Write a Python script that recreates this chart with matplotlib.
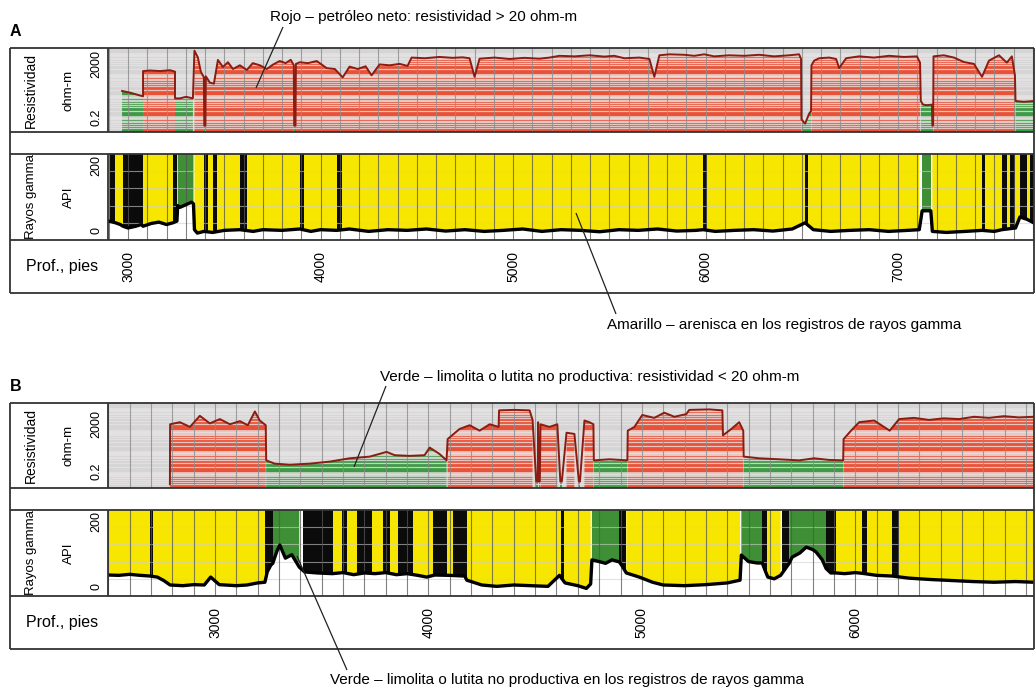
import numpy as np
import matplotlib
matplotlib.use('Agg')
import matplotlib.pyplot as plt
from matplotlib.lines import Line2D
from matplotlib.transforms import blended_transform_factory

W, H = 1036, 693

# ---------------- Pozo A ----------------
# resistividad: profundidad (pies) y valor (ohm-m)
prof_res_a = [2969, 3010, 3062, 3078, 3078, 3114, 3166, 3218, 3244, 3244, 3270, 3301, 3337,
              3345, 3363, 3378, 3394, 3396, 3402, 3404, 3425, 3446, 3467, 3493, 3519, 3545,
              3581, 3617, 3648, 3685, 3721, 3752, 3788, 3819, 3845, 3861, 3863, 3870, 3872,
              3892, 3934, 3980, 4032, 4074, 4115, 4151, 4193, 4234, 4265, 4307, 4359, 4411,
              4452, 4473, 4541, 4618, 4686, 4738, 4774, 4800, 4826, 4904, 4982, 5059, 5137,
              5189, 5241, 5319, 5397, 5474, 5526, 5578, 5656, 5708, 5734, 5760, 5812, 5890,
              5941, 5993, 6045, 6123, 6201, 6279, 6356, 6434, 6486, 6496, 6498, 6517, 6538,
              6548, 6550, 6564, 6590, 6642, 6678, 6694, 6730, 6797, 6875, 6953, 7031, 7098,
              7114, 7118, 7130, 7150, 7176, 7178, 7182, 7184, 7238, 7290, 7342, 7394, 7436,
              7472, 7524, 7565, 7591, 7607, 7610, 7653, 7705]
res_a = [18, 15, 11, 10, 160, 170, 160, 175, 150, 8, 8, 9.5, 8,
         1500, 700, 150, 80, 0.4, 0.4, 90, 45, 40, 540, 250, 420, 200,
         300, 180, 380, 300, 200, 320, 480, 380, 550, 300, 0.4, 0.4, 350,
         420, 380, 480, 220, 200, 80, 260, 200, 270, 100, 330, 300, 350,
         280, 700, 650, 750, 680, 720, 650, 85, 620, 700, 600, 680, 620,
         700, 850, 800, 900, 780, 850, 650, 700, 600, 85, 900, 1000, 950,
         850, 1000, 800, 900, 850, 950, 800, 900, 1000, 600, 0.8, 0.5, 1.5,
         2, 300, 500, 650, 700, 600, 220, 650, 800, 700, 850, 750, 800,
         400, 6, 4, 3.8, 4, 0.4, 0.4, 800, 900, 700, 430, 350, 85,
         500, 900, 400, 800, 100, 6, 5.5, 6]
# rayos gamma: profundidad (pies) y valor (API)
prof_gr_a = [2900, 2935, 2960, 2974, 3000, 3040, 3070, 3078, 3120, 3160, 3200, 3233, 3254,
             3258, 3270, 3290, 3310, 3330, 3340, 3345, 3360, 3394, 3440, 3500, 3581, 3650,
             3700, 3800, 3892, 3950, 4000, 4084, 4150, 4250, 4350, 4450, 4550, 4650, 4750,
             4850, 4950, 5050, 5150, 5250, 5350, 5450, 5550, 5650, 5750, 5850, 5950, 5988,
             6050, 6150, 6250, 6350, 6450, 6517, 6560, 6650, 6750, 6850, 6950, 7050, 7110,
             7125, 7170, 7178, 7250, 7350, 7436, 7500, 7539, 7610, 7633, 7670, 7705]
gr_a = [55, 50, 45, 40, 35, 40, 45, 40, 48, 52, 45, 50, 55,
        100, 95, 100, 105, 110, 105, 30, 20, 25, 22, 28, 30, 25,
        30, 28, 32, 25, 30, 28, 32, 25, 30, 28, 32, 26, 30,
        25, 28, 32, 25, 30, 28, 24, 30, 28, 32, 26, 28, 30,
        25, 28, 30, 26, 32, 50, 30, 25, 28, 30, 25, 28, 30,
        85, 85, 25, 22, 25, 28, 25, 30, 35, 67, 60, 50]
# capas de lutita delgadas (negro) en el registro de rayos gamma
lutitas_a = [(2906, 2932), (2974, 3078), (3233, 3254), (3394, 3415), (3441, 3461),
             (3581, 3617), (3892, 3913), (4084, 4110), (5988, 6009), (6517, 6533),
             (7436, 7451), (7539, 7565), (7580, 7607), (7633, 7669), (7685, 7706)]
ticks_a = [3000, 4000, 5000, 6000, 7000]

# ---------------- Pozo B ----------------
prof_res_b = [2789, 2790, 2836, 2883, 2929, 2976, 3023, 3070, 3117, 3154, 3187, 3210, 3238,
              3240, 3280, 3351, 3444, 3538, 3631, 3725, 3804, 3842, 3912, 3982, 4006, 4052,
              4085, 4090, 4146, 4193, 4240, 4287, 4329, 4331, 4403, 4474, 4488, 4505, 4512,
              4514, 4518, 4522, 4525, 4567, 4604, 4618, 4625, 4647, 4684, 4705, 4710, 4731,
              4754, 4773, 4775, 4848, 4932, 4934, 4965, 5002, 5058, 5105, 5152, 5208, 5222,
              5316, 5377, 5380, 5419, 5456, 5475, 5477, 5550, 5643, 5737, 5807, 5877, 5943,
              5945, 5980, 6018, 6088, 6161, 6205, 6275, 6345, 6415, 6486, 6556, 6626, 6696,
              6766, 6836]
res_b = [0.3, 200, 250, 150, 500, 220, 350, 200, 280, 180, 800, 300, 180,
         4, 2.8, 2.5, 2.8, 3.5, 5, 6, 10, 7, 6.5, 7, 16, 8,
         4, 40, 120, 180, 100, 200, 150, 900, 950, 900, 320, 0.4, 0.4,
         250, 0.4, 0.4, 200, 150, 200, 0.4, 0.4, 80, 70, 0.4, 0.4, 300,
         250, 200, 4, 4.5, 4, 100, 150, 545, 400, 700, 450, 600, 950,
         1000, 900, 60, 120, 250, 100, 6, 5, 4.5, 4, 5, 4.2, 4,
         40, 100, 250, 300, 100, 350, 400, 320, 380, 350, 450, 400, 480,
         420, 450]
prof_gr_b = [2500, 2550, 2600, 2650, 2696, 2730, 2760, 2790, 2850, 2900, 2950, 2980, 3020,
             3100, 3150, 3200, 3234, 3245, 3262, 3271, 3290, 3304, 3330, 3360, 3395, 3420,
             3480, 3550, 3600, 3650, 3700, 3750, 3800, 3850, 3900, 3950, 3992, 4030, 4100,
             4170, 4180, 4250, 4320, 4400, 4480, 4560, 4614, 4640, 4700, 4740, 4760, 4766,
             4800, 4830, 4860, 4895, 4910, 4927, 4988, 5050, 5100, 5200, 5300, 5400, 5460,
             5466, 5500, 5540, 5564, 5580, 5590, 5620, 5650, 5690, 5704, 5740, 5770, 5800,
             5816, 5845, 5863, 5885, 5910, 5950, 6000, 6032, 6100, 6172, 6250, 6350, 6450,
             6550, 6650, 6750, 6836]
gr_b = [61, 60, 63, 60, 58, 55, 45, 32, 30, 33, 32, 55, 33,
        30, 32, 38, 40, 70, 90, 95, 130, 148, 110, 120, 84, 70,
        67, 65, 68, 62, 67, 65, 68, 62, 65, 60, 55, 61, 60,
        58, 46, 32, 28, 32, 30, 28, 60, 38, 30, 22, 35, 105,
        100, 95, 105, 99, 85, 67, 55, 40, 32, 30, 33, 38, 46,
        119, 100, 96, 96, 70, 55, 50, 60, 95, 113, 125, 142, 135,
        128, 105, 80, 67, 67, 65, 68, 66, 60, 58, 52, 48, 45,
        42, 40, 42, 40]
lutitas_b = [(2696, 2710), (3234, 3271), (3411, 3552), (3594, 3617), (3664, 3734),
             (3786, 3818), (3856, 3926), (4020, 4085), (4113, 4179), (4623, 4637),
             (4895, 4927), (5564, 5587), (5657, 5690), (5863, 5910), (6032, 6055),
             (6172, 6205)]
ticks_b = [3000, 4000, 5000, 6000]

RES_CORTE = 20   # ohm-m
GR_CORTE = 75    # API

ROJO = '#ea5238'
VERDE = '#3d9a45'
VERDE_GR = '#3f8f36'
AMARILLO = '#f7e600'
CURVA_RES = '#8a1c12'
BORDE = '#333333'

plt.rcParams['font.family'] = ['Liberation Sans', 'DejaVu Sans']

fig = plt.figure(figsize=(W / 100, H / 100), dpi=100)
fig.patch.set_facecolor('white')


def fx(x):
    return x / W


def fy(y):
    return 1 - y / H


def linea(x0, y0, x1, y1, lw=1.3, color=BORDE):
    fig.add_artist(Line2D([fx(x0), fx(x1)], [fy(y0), fy(y1)], transform=fig.transFigure,
                          color=color, lw=lw, solid_capstyle='butt'))


def texto(x, y, s, **kw):
    fig.text(fx(x), fy(y), s, **kw)


def pista(x0, y0, x1, y1):
    ax = fig.add_axes([fx(x0), fy(y1), fx(x1) - fx(x0), fy(y0) - fy(y1)])
    for s in ax.spines.values():
        s.set_visible(False)
    return ax


def sin_ejes(ax):
    ax.xaxis.set_major_locator(plt.NullLocator())
    ax.xaxis.set_minor_locator(plt.NullLocator())
    ax.yaxis.set_major_locator(plt.NullLocator())
    ax.yaxis.set_minor_locator(plt.NullLocator())


def panel(letra, g, prof_res, res, prof_gr, gr, lutitas, ticks, d0, d1):
    top, rb, gt, gb, bot = g['top'], g['rb'], g['gt'], g['gb'], g['bot']
    L, D, R = 10, 108, 1034

    # pista de resistividad (escala log)
    ax = pista(D, top, R, rb)
    ax.set_facecolor('#d5d5d5')
    ax.set_yscale('log')
    ax.set_xlim(d0, d1)
    ax.set_ylim(0.2, 2000)
    sin_ejes(ax)
    pr = np.array(prof_res, float)
    rv = np.array(res, float)
    ax.fill_between(pr, 0.2, rv, where=rv >= RES_CORTE, color=ROJO, lw=0, zorder=1)
    ax.fill_between(pr, 0.2, rv, where=rv < RES_CORTE, color=VERDE, lw=0, zorder=1)
    for e in range(-1, 4):
        for k in range(1, 10):
            v = k * 10.0 ** e
            if 0.2 < v < 2000:
                ax.axhline(v, color='#e6e3e3', lw=2.0 if k == 1 else 0.9, alpha=0.8, zorder=2)
    for d in np.arange(2500, 7800, 100):
        ax.axvline(d, color='#8c8c8c', lw=0.8, alpha=0.8, zorder=3)
    ax.plot(pr, rv, color=CURVA_RES, lw=1.4, zorder=4)

    # pista de rayos gamma
    ax2 = pista(D, gt, R, gb)
    ax2.set_xlim(d0, d1)
    ax2.set_ylim(0, 250)
    sin_ejes(ax2)
    pg = np.array(prof_gr, float)
    gv = np.array(gr, float)
    ax2.fill_between(pg, gv, 250, where=gv < GR_CORTE, color=AMARILLO, lw=0, zorder=1)
    ax2.fill_between(pg, gv, 250, where=gv >= GR_CORTE, color=VERDE_GR, lw=0, zorder=1)
    for a, b in lutitas:
        ax2.axvspan(a, b, color='#0b0b0b', lw=0, zorder=2)
    ax2.fill_between(pg, 0, gv, color='white', lw=0, zorder=3)
    for v in (50, 100, 150, 200):
        ax2.axhline(v, color='#cfcfcf', lw=0.8, alpha=0.6, zorder=4)
    for d in np.arange(2500, 7800, 100):
        ax2.axvline(d, color='#555555', lw=0.8, alpha=0.75, zorder=4)
    ax2.plot(pg, gv, color='black', lw=2.4, zorder=5)

    # marco
    linea(L, top, R, top)
    linea(L, rb, R, rb)
    linea(L, gt, R, gt)
    linea(L, gb, R, gb)
    linea(L, bot, R, bot)
    linea(L, top, L, bot)
    linea(R, top, R, bot)
    linea(D, top, D, rb)
    linea(D, gt, D, gb)

    texto(10, top - 17, letra, fontsize=11.5, fontweight='bold', ha='left', va='center')

    # rótulos de la columna izquierda
    ym = (top + rb) / 2
    texto(31, ym, 'Resistividad', rotation=90, ha='center', va='center', fontsize=10)
    texto(69, ym, 'ohm-m', rotation=90, ha='center', va='center', fontsize=9.5)
    texto(96, top + g['r_hi'], '2000', rotation=90, ha='center', va='center', fontsize=9)
    texto(96, rb - g['r_lo'], '0.2', rotation=90, ha='center', va='center', fontsize=9)
    ym = (gt + gb) / 2
    texto(31, ym, 'Rayos gamma', rotation=90, ha='center', va='center', fontsize=9.5)
    texto(69, ym, 'API', rotation=90, ha='center', va='center', fontsize=9.5)
    texto(96, gt + g['g_hi'], '200', rotation=90, ha='center', va='center', fontsize=9)
    texto(96, gb - g['g_lo'], '0', rotation=90, ha='center', va='center', fontsize=9)

    # fila de profundidad
    yp = (gb + bot) / 2
    texto(26, yp, 'Prof., pies', ha='left', va='center', fontsize=11.5)
    tr = blended_transform_factory(ax2.transData, fig.transFigure)
    for t in ticks:
        fig.text(t, fy(yp), str(t), transform=tr, rotation=90, ha='center', va='center',
                 fontsize=10)


geo_a = dict(top=48, rb=132, gt=154, gb=240, bot=293, r_hi=16, r_lo=15, g_hi=11, g_lo=10)
geo_b = dict(top=403, rb=488, gt=510, gb=596, bot=649, r_hi=21, r_lo=17, g_hi=12, g_lo=9)

panel('A', geo_a, prof_res_a, res_a, prof_gr_a, gr_a, lutitas_a, ticks_a, 2896, 7706)
panel('B', geo_b, prof_res_b, res_b, prof_gr_b, gr_b, lutitas_b, ticks_b, 2499, 6837)

# leyendas con líneas indicadoras
texto(270, 17, 'Rojo \u2013 petróleo neto: resistividad > 20 ohm-m', fontsize=11, ha='left', va='center')
linea(283, 27, 256, 88, lw=0.9, color='#222222')
texto(607, 325, 'Amarillo \u2013 arenisca en los registros de rayos gamma', fontsize=11, ha='left', va='center')
linea(616, 314, 576, 213, lw=0.9, color='#222222')
texto(380, 377, 'Verde \u2013 limolita o lutita no productiva: resistividad < 20 ohm-m', fontsize=11,
      ha='left', va='center')
linea(386, 386, 354, 467, lw=0.9, color='#222222')
texto(330, 680, 'Verde \u2013 limolita o lutita no productiva en los registros de rayos gamma', fontsize=11,
      ha='left', va='center')
linea(347, 670, 297, 556, lw=0.9, color='#222222')

fig.savefig('out.png', dpi=100, facecolor='white')
